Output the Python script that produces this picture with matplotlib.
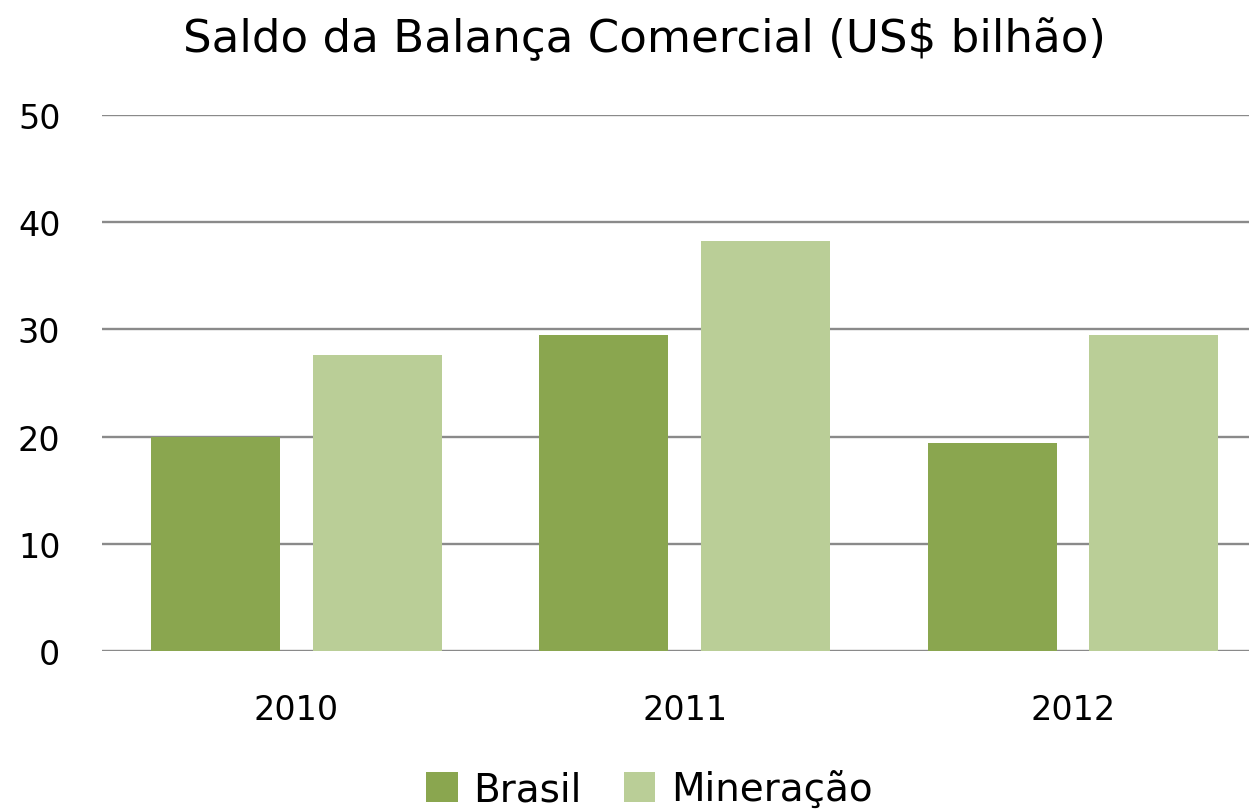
import numpy as np
import matplotlib.pyplot as plt

anos = ['2010', '2011', '2012']
brasil = [20.0, 29.45, 19.4]
mineracao = [27.6, 38.3, 29.5]
yticks = [0, 10, 20, 30, 40, 50]

plt.rcParams['font.family'] = ['DejaVu Sans']

fig = plt.figure(figsize=(12.49, 8.12), dpi=100)
ax = fig.add_axes([0.0817, 0.197, 0.933, 0.660])

x = np.arange(len(anos))
w = 0.332
ax.bar(x - 0.208, brasil, w, color='#8AA64F', label='Brasil', zorder=3)
ax.bar(x + 0.208, mineracao, w, color='#BACE97', label='Mineração', zorder=3)

ax.set_xlim(-0.5, 2.5)
ax.set_ylim(0, 50)
ax.set_yticks(yticks)
ax.set_xticks(x)
ax.set_xticklabels(anos)
ax.grid(axis='y', color='#8a8a8a', linewidth=1.7, zorder=0)
for s in ax.spines.values():
    s.set_visible(False)
ax.tick_params(axis='both', length=0, labelsize=24)
ax.tick_params(axis='y', pad=30)
ax.tick_params(axis='x', pad=30)

fig.suptitle('Saldo da Balança Comercial (US$ bilhão)', x=0.516, y=0.978,
             fontsize=32.5, va='top')
fig.legend(loc='lower center', bbox_to_anchor=(0.52, -0.04), ncol=2,
           frameon=False, fontsize=28, handlelength=0.8, handleheight=0.8,
           handletextpad=0.4, columnspacing=1.1)

fig.savefig('out.png', dpi=100)
